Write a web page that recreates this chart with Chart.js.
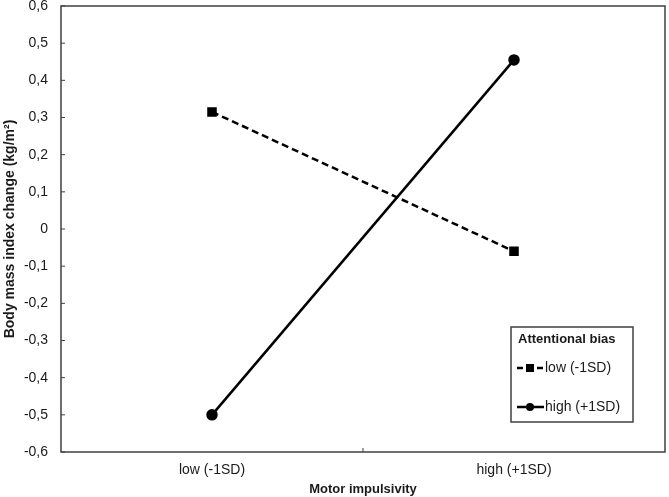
<!DOCTYPE html>
<html>
<head>
<meta charset="utf-8">
<script src="https://cdn.jsdelivr.net/npm/chart.js@4/dist/chart.umd.min.js"></script>
<style>
html,body{margin:0;padding:0;background:#fff;}
#wrap{position:relative;width:669px;height:497px;}
</style>
</head>
<body>
<div id="wrap"><canvas id="c" width="669" height="497"></canvas></div>
<script>
const categories = ["low (-1SD)", "high (+1SD)"];
const lowBias = [0.315, -0.06];
const highBias = [-0.5, 0.455];
const seriesNames = ["low (-1SD)", "high (+1SD)"];
const legendTitle = "Attentional bias";
const xTitle = "Motor impulsivity";
const yTitle = "Body mass index change (kg/m²)";
const yMin = -0.6, yMax = 0.6, yStep = 0.1;

const FONT = "'Liberation Sans', Arial, sans-serif";
const TXT = "#1a1a1a";
const AX = "#404040";

function fmt(v){
  const r = Math.round(v*10)/10;
  if (Math.abs(r) < 1e-9) return "0";
  return r.toFixed(1).replace(".", ",");
}

const framePlugin = {
  id: "frame",
  afterDraw(chart){
    const ctx = chart.ctx, a = chart.chartArea;
    const ys = chart.scales.y, xs = chart.scales.x;
    ctx.save();
    ctx.strokeStyle = AX;
    ctx.lineWidth = 1.5;
    ctx.strokeRect(a.left, a.top, a.right - a.left, a.bottom - a.top);
    ctx.lineWidth = 1;
    ys.ticks.forEach(t => {
      const y = ys.getPixelForValue(t.value);
      ctx.beginPath(); ctx.moveTo(a.left, y); ctx.lineTo(a.left + 4, y); ctx.stroke();
    });
    const mid = (xs.getPixelForValue(0) + xs.getPixelForValue(1)) / 2;
    ctx.beginPath(); ctx.moveTo(mid, a.bottom); ctx.lineTo(mid, a.bottom - 4); ctx.stroke();

    // legend box
    const lx = 511, ly = 327, lw = 122, lh = 95;
    ctx.fillStyle = "#fff";
    ctx.fillRect(lx, ly, lw, lh);
    ctx.strokeStyle = AX; ctx.lineWidth = 1.5;
    ctx.strokeRect(lx, ly, lw, lh);
    ctx.fillStyle = TXT;
    ctx.textBaseline = "middle"; ctx.textAlign = "left";
    ctx.font = "bold 13px " + FONT;
    ctx.fillText(legendTitle, 518, 339);
    ctx.font = "14px " + FONT;
    ctx.strokeStyle = "#000"; ctx.lineWidth = 2.5;
    ctx.setLineDash([6,4]);
    ctx.beginPath(); ctx.moveTo(517, 368); ctx.lineTo(544, 368); ctx.stroke();
    ctx.setLineDash([]);
    ctx.fillStyle = "#000";
    ctx.fillRect(526, 364, 8, 8);
    ctx.fillStyle = TXT;
    ctx.fillText(seriesNames[0], 545, 368);
    ctx.strokeStyle = "#000";
    ctx.beginPath(); ctx.moveTo(517, 407); ctx.lineTo(544, 407); ctx.stroke();
    ctx.fillStyle = "#000";
    ctx.beginPath(); ctx.arc(530, 407, 4, 0, Math.PI*2); ctx.fill();
    ctx.fillStyle = TXT;
    ctx.fillText(seriesNames[1], 545, 407);
    ctx.restore();
  }
};

new Chart(document.getElementById("c"), {
  type: "line",
  data: {
    labels: categories,
    datasets: [
      {
        label: seriesNames[0],
        data: lowBias,
        borderColor: "#000",
        backgroundColor: "#000",
        borderWidth: 2.5,
        borderDash: [7,4],
        pointStyle: "rect",
        pointRadius: 5,
        pointHoverRadius: 5,
        fill: false,
        tension: 0
      },
      {
        label: seriesNames[1],
        data: highBias,
        borderColor: "#000",
        backgroundColor: "#000",
        borderWidth: 2.5,
        pointStyle: "circle",
        pointRadius: 4.5,
        pointHoverRadius: 4.5,
        fill: false,
        tension: 0
      }
    ]
  },
  options: {
    responsive: false,
    animation: false,
    layout: { autoPadding: false, padding: { left: 0, right: 4, top: 6, bottom: 0 } },
    plugins: { legend: { display: false }, tooltip: { enabled: false } },
    scales: {
      x: {
        type: "category",
        offset: true,
        grid: { display: false, drawTicks: false, offset: true },
        border: { display: false },
        ticks: { color: TXT, font: { family: FONT, size: 14 }, padding: 10, maxRotation: 0 },
        title: { display: true, text: xTitle, color: TXT, font: { family: FONT, size: 13, weight: "bold" }, padding: { top: 4, bottom: 0 } },
        afterFit(s){ s.height = 45; s.paddingLeft = 0; s.paddingRight = 0; }
      },
      y: {
        min: yMin, max: yMax,
        grid: { display: false, drawTicks: false },
        border: { display: false },
        ticks: { stepSize: yStep, color: TXT, font: { family: FONT, size: 14 }, padding: 13, callback: v => fmt(v) },
        title: { display: true, text: yTitle, color: TXT, font: { family: FONT, size: 14, weight: "bold" }, padding: { top: 2, bottom: 0 } },
        afterFit(s){ s.width = 61; s.paddingTop = 0; s.paddingBottom = 0; }
      }
    }
  },
  plugins: [framePlugin]
});
</script>
</body>
</html>
